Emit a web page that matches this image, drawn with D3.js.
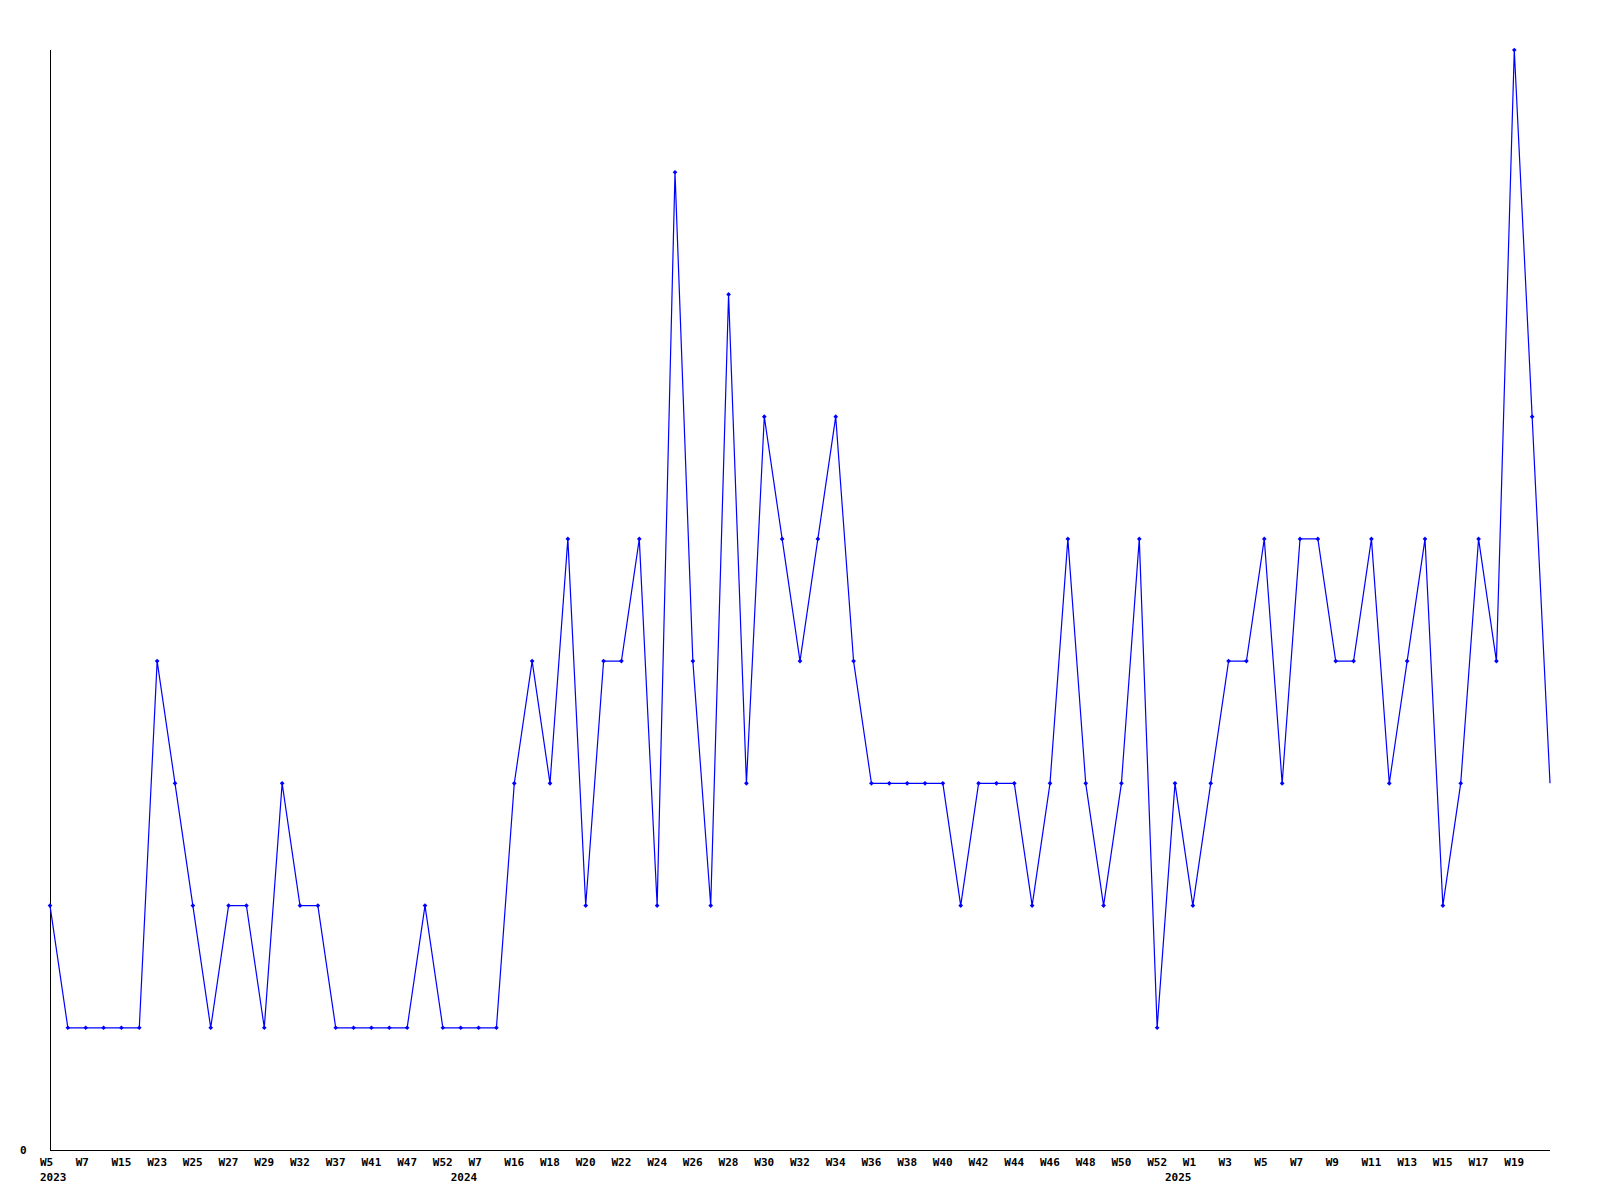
<!DOCTYPE html>
<html>
<head>
<meta charset="utf-8">
<script src="https://cdn.jsdelivr.net/npm/d3@7"></script>
<style>
  html, body { margin: 0; padding: 0; background: #fff; }
  svg text { font-family: "DejaVu Sans Mono", "Liberation Mono", monospace; font-weight: bold; font-size: 11px; fill: #000; }
</style>
</head>
<body>
<svg id="chart" width="1600" height="1200"></svg>
<script>
// Weekly values (one per point)
const values = [2,1,1,1,1,1,4,3,2,1,2,2,1,3,2,2,1,1,1,1,1,2,1,1,1,1,3,4,3,5,2,4,4,5,2,8,4,2,7,3,6,5,4,5,6,4,3,3,3,3,3,2,3,3,3,2,3,5,3,2,3,5,1,3,2,3,4,4,5,3,5,5,4,4,5,3,4,5,2,3,5,4,9,6,3];
// Tick labels shown on every second point
const tickIndex = [0,2,4,6,8,10,12,14,16,18,20,22,24,26,28,30,32,34,36,38,40,42,44,46,48,50,52,54,56,58,60,62,64,66,68,70,72,74,76,78,80,82];
const tickLabels = ["W5","W7","W15","W23","W25","W27","W29","W32","W37","W41","W47","W52","W7","W16","W18","W20","W22","W24","W26","W28","W30","W32","W34","W36","W38","W40","W42","W44","W46","W48","W50","W52","W1","W3","W5","W7","W9","W11","W13","W15","W17","W19"];
// Year labels
const yearIndex = [0,23,63];
const yearLabels = ["2023","2024","2025"];
const yMax = 9;

(function () {
const svg = d3.select("#chart");
const mLeft = 50, mRight = 1550, mTop = 50, mBottom = 1150;

const x = d3.scaleLinear().domain([0, values.length - 1]).range([mLeft, mRight]);
const y = d3.scaleLinear().domain([0, yMax]).range([mBottom, mTop]);

// axes
svg.append("line").attr("x1", mLeft + 0.5).attr("x2", mLeft + 0.5).attr("y1", mTop).attr("y2", mBottom)
  .attr("stroke", "#000").attr("stroke-width", 1);
svg.append("line").attr("x1", mLeft).attr("x2", mRight).attr("y1", mBottom + 0.5).attr("y2", mBottom + 0.5)
  .attr("stroke", "#000").attr("stroke-width", 1);

// y label 0
svg.append("text").attr("x", 20).attr("y", y(0) + 4).text("0");

// x tick labels
svg.selectAll("text.tick").data(tickIndex).enter().append("text")
  .attr("class", "tick")
  .attr("x", d => x(d) - 10)
  .attr("y", 1166)
  .text((d, i) => tickLabels[i]);

svg.selectAll("text.year").data(yearIndex).enter().append("text")
  .attr("class", "year")
  .attr("x", d => x(d) - 10)
  .attr("y", 1181)
  .text((d, i) => yearLabels[i]);

// line
const line = d3.line().x((d, i) => x(i)).y(d => y(d));
svg.append("path").datum(values).attr("d", line)
  .attr("fill", "none").attr("stroke", "#0000ff").attr("stroke-width", 1.2);

// markers (last point has none)
const diamond = d3.symbol().type(d3.symbolDiamond2).size(14);
svg.selectAll("path.pt").data(values.slice(0, values.length - 1)).enter().append("path")
  .attr("class", "pt")
  .attr("d", diamond)
  .attr("transform", (d, i) => `translate(${x(i)},${y(d)})`)
  .attr("fill", "#0000ff");
})();
</script>
</body>
</html>
